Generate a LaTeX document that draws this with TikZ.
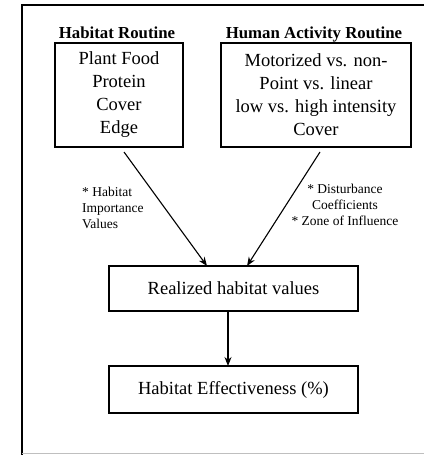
\documentclass[tikz,border=0pt]{standalone}
\usepackage{fontspec}
\setmainfont{Liberation Serif}
\usetikzlibrary{arrows.meta}
\begin{document}
\begin{tikzpicture}[x=1pt,y=-1pt,
  box/.style={draw,line width=1.1pt,inner sep=0pt,align=center,font=\fontsize{18.5}{23}\selectfont},
  title/.style={font=\bfseries\fontsize{16.8}{20}\selectfont,inner sep=0pt},
  note/.style={font=\fontsize{13.5}{16}\selectfont,inner sep=0pt},
  arr/.style={line width=1.1pt,-{Stealth[length=9pt,width=7pt]}}]
\useasboundingbox (0,0) rectangle (424,455);
% outer frame
\draw[line width=1.4pt] (22,455) -- (22,5) -- (424,5);
\draw[line width=0.6pt,black!25] (22,453) -- (424,453);
% titles
\node[title,anchor=base] (t1) at (117,38) {Habitat Routine};
\node[title,anchor=base] (t2) at (314,38) {Human Activity Routine};
% top boxes
\node[box,minimum width=128pt,minimum height=104pt] (hab) at (119,95)
  {Plant Food\\Protein\\Cover\\Edge};
\node[box,minimum width=190pt,minimum height=104pt] (hum) at (316,95)
  {Motorized vs. non-\\Point vs. linear\\low vs. high intensity\\Cover};
% lower boxes
\node[box,minimum width=249pt,minimum height=45pt] (real) at (233.5,288.5) {Realized habitat values};
\node[box,minimum width=249pt,minimum height=47pt] (eff) at (233.5,389.5) {Habitat Effectiveness (\%)};
% notes
\node[note,align=left,anchor=west] (n1) at (82,208) {* Habitat\\Importance\\Values};
\node[note,align=center] (n2) at (345,205) {* Disturbance\\Coefficients\\* Zone of Influence};
% arrows
\coordinate (s1) at (124,152);
\coordinate (e1) at (207,266);
\coordinate (s2) at (320,152);
\coordinate (e2) at (247,266);
\coordinate (v1) at (228,311);
\coordinate (v2) at (228,366);
\draw[arr] (s1) -- (e1);
\draw[arr] (s2) -- (e2);
\draw[arr] (v1) -- (v2);
\end{tikzpicture}
\end{document}
